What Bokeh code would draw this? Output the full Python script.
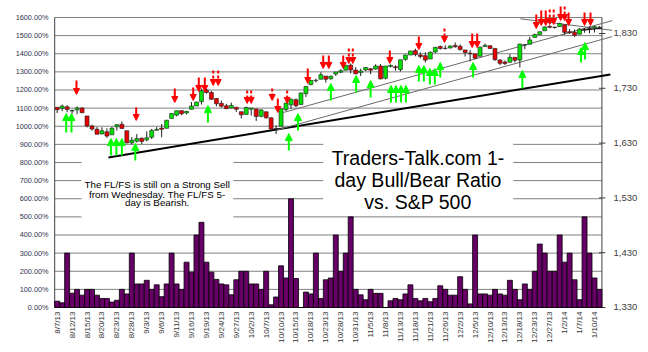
import math
from bokeh.plotting import figure
from bokeh.models import Range1d, LinearAxis, FixedTicker, ColumnDataSource, Arrow, NormalHead
from bokeh.core.properties import value
from bokeh.embed import file_html
from bokeh.resources import INLINE

# ---------------- data ----------------
dates = ["8/7/13","8/8/13","8/9/13","8/12/13","8/13/13","8/14/13","8/15/13","8/16/13","8/19/13","8/20/13",
         "8/21/13","8/22/13","8/23/13","8/26/13","8/27/13","8/28/13","8/29/13","8/30/13","9/3/13","9/4/13",
         "9/5/13","9/6/13","9/9/13","9/10/13","9/11/13","9/12/13","9/13/13","9/16/13","9/17/13","9/18/13",
         "9/19/13","9/20/13","9/23/13","9/24/13","9/25/13","9/26/13","9/27/13","9/30/13","10/1/13","10/2/13",
         "10/3/13","10/4/13","10/7/13","10/8/13","10/9/13","10/10/13","10/11/13","10/14/13","10/15/13","10/16/13",
         "10/17/13","10/18/13","10/21/13","10/22/13","10/23/13","10/24/13","10/25/13","10/28/13","10/29/13","10/30/13",
         "10/31/13","11/1/13","11/4/13","11/5/13","11/6/13","11/7/13","11/8/13","11/11/13","11/12/13","11/13/13",
         "11/14/13","11/15/13","11/18/13","11/19/13","11/20/13","11/21/13","11/22/13","11/25/13","11/26/13","11/27/13",
         "11/29/13","12/2/13","12/3/13","12/4/13","12/5/13","12/6/13","12/9/13","12/10/13","12/11/13","12/12/13",
         "12/13/13","12/16/13","12/17/13","12/18/13","12/19/13","12/20/13","12/23/13","12/24/13","12/26/13","12/27/13",
         "12/30/13","12/31/13","1/2/14","1/3/14","1/6/14","1/7/14","1/8/14","1/9/14","1/10/14","1/13/14"]

ratio_pct = [35, 26, 300, 79, 100, 68, 100, 100, 68, 50,
             50, 30, 40, 100, 75, 300, 130, 130, 150, 100,
             125, 60, 130, 300, 130, 100, 250, 195, 400, 470,
             250, 195, 155, 130, 125, 70, 153, 200, 200, 130,
             130, 100, 200, 15, 58, 230, 163, 600, 160, 0,
             85, 75, 300, 50, 153, 163, 400, 200, 300, 500,
             100, 70, 43, 100, 78, 78, 0, 37, 50, 43,
             75, 125, 50, 37, 50, 32, 50, 120, 100, 68,
             68, 170, 100, 20, 400, 75, 75, 68, 100, 75,
             68, 150, 100, 43, 130, 100, 200, 350, 300, 200,
             200, 400, 250, 300, 153, 43, 500, 300, 163, 100]

sp_open = [1695.3,1693.4,1696.1,1688.4,1690.7,1693.9,1679.6,1661.2,1655.3,1646.8,
           1650.7,1645.0,1659.9,1664.3,1652.5,1630.3,1633.5,1638.9,1635.9,1640.7,
           1653.3,1657.4,1656.9,1675.1,1681.0,1689.2,1685.0,1691.7,1697.7,1705.7,
           1727.0,1722.4,1711.4,1702.6,1698.0,1694.1,1695.5,1687.3,1682.4,1691.9,
           1692.4,1678.8,1687.2,1676.2,1656.0,1660.9,1691.1,1699.9,1709.2,1700.5,
           1720.2,1736.7,1744.0,1746.5,1752.3,1747.5,1756.0,1759.4,1762.9,1772.3,
           1763.2,1758.7,1763.4,1765.7,1765.0,1770.7,1748.4,1769.9,1769.5,1764.0,
           1782.8,1790.7,1798.8,1790.8,1789.6,1783.5,1796.2,1806.3,1802.9,1803.5,
           1808.0,1806.6,1800.1,1794.1,1792.8,1788.4,1806.2,1807.6,1802.8,1781.7,
           1778.0,1777.5,1786.5,1781.5,1809.0,1810.4,1822.9,1828.0,1835.0,1843.0,
           1841.5,1842.6,1845.9,1833.2,1832.3,1828.7,1837.9,1839.0,1840.1,1841.3]
sp_high = [1695.3,1700.2,1699.4,1691.5,1696.8,1695.5,1679.6,1663.6,1659.2,1658.9,
           1656.9,1659.6,1664.9,1669.5,1652.5,1641.2,1646.4,1640.1,1651.4,1655.7,
           1659.2,1664.8,1672.4,1684.1,1689.1,1689.9,1688.7,1704.9,1705.5,1729.4,
           1729.9,1725.2,1711.4,1707.6,1701.7,1703.9,1695.5,1687.3,1696.6,1693.9,
           1692.4,1691.9,1687.2,1676.8,1662.4,1692.6,1703.4,1711.0,1711.6,1721.8,
           1733.4,1745.3,1747.8,1759.3,1752.3,1753.0,1759.8,1765.0,1772.1,1775.2,
           1768.5,1765.7,1768.8,1767.0,1773.7,1774.5,1770.8,1773.4,1771.8,1782.0,
           1791.5,1798.2,1802.3,1795.5,1795.7,1797.2,1804.8,1808.1,1808.4,1808.3,
           1813.6,1810.0,1800.1,1799.8,1792.8,1806.0,1811.5,1808.5,1803.0,1783.0,
           1780.9,1792.2,1786.8,1811.1,1810.9,1823.8,1829.8,1833.3,1842.8,1844.9,
           1842.5,1849.4,1845.9,1838.2,1837.2,1840.1,1840.0,1843.2,1844.0,1843.5]
sp_low = [1684.9,1688.4,1686.0,1683.4,1682.6,1684.8,1658.6,1652.6,1645.8,1646.1,
          1639.4,1645.0,1653.0,1656.0,1629.1,1627.5,1630.9,1628.1,1633.4,1637.4,
          1653.1,1640.6,1656.9,1675.1,1678.7,1681.0,1682.2,1691.7,1697.7,1700.4,
          1720.2,1708.9,1697.1,1694.9,1691.9,1693.1,1687.0,1674.9,1682.1,1680.3,
          1670.4,1677.3,1674.7,1655.0,1646.5,1660.9,1688.5,1692.1,1695.5,1700.5,
          1714.1,1735.7,1740.6,1746.5,1740.5,1745.5,1752.5,1757.7,1762.9,1757.2,
          1755.7,1752.3,1761.6,1755.8,1764.2,1746.2,1746.2,1767.9,1762.3,1760.6,
          1780.2,1790.7,1788.4,1784.7,1777.2,1783.5,1794.7,1800.6,1800.8,1802.8,
          1804.0,1798.6,1787.9,1779.1,1783.4,1788.4,1806.2,1801.7,1780.1,1772.3,
          1772.4,1777.5,1777.2,1768.0,1801.3,1810.4,1822.9,1828.0,1835.0,1839.8,
          1838.8,1842.4,1827.7,1829.1,1823.7,1828.7,1831.4,1830.4,1831.9,1838.0]
sp_close = [1690.9,1697.5,1691.4,1689.5,1694.2,1685.4,1661.3,1655.8,1646.1,1652.4,
            1642.8,1657.0,1663.5,1656.8,1630.5,1635.0,1638.2,1633.0,1639.8,1653.1,
            1655.1,1655.2,1671.7,1684.0,1689.1,1683.4,1688.0,1697.6,1704.8,1725.5,
            1722.3,1709.9,1701.8,1697.4,1692.8,1698.7,1691.8,1681.6,1695.0,1693.9,
            1678.7,1690.5,1676.1,1655.5,1656.4,1692.6,1703.2,1710.1,1698.1,1721.5,
            1733.2,1744.5,1744.7,1754.7,1746.4,1752.1,1759.8,1762.1,1772.0,1763.3,
            1756.5,1761.6,1767.9,1763.0,1770.5,1747.2,1770.6,1771.9,1767.7,1782.0,
            1790.6,1798.2,1791.5,1787.9,1781.4,1795.9,1804.8,1802.5,1802.8,1807.2,
            1805.8,1800.9,1795.2,1792.8,1785.0,1805.1,1808.4,1802.6,1782.2,1775.5,
            1775.3,1786.5,1781.0,1810.7,1809.6,1818.3,1828.0,1833.3,1842.0,1841.4,
            1841.1,1848.4,1832.0,1831.4,1826.8,1837.9,1837.5,1838.1,1842.4,1841.0]

pct_ticks = [0, 100, 200, 300, 400, 500, 600, 700, 800, 900, 1000, 1100, 1200, 1300, 1400, 1500, 1600]
sp_ticks = [1330, 1430, 1530, 1630, 1730, 1830]
sp_tick_labels = ["1,330", "1,430", "1,530", "1,630", "1,730", "1,830"]
date_label_step = 3

# signal arrows (x in trading-day index, y in ratio % units)
sell_x = [3.88, 15.88, 23.64, 27.34, 28.46, 29.67, 31.36, 32.36, 38.19, 38.99,
          43.22, 44.34, 46.23, 50.37, 53.47, 54.6, 57.49, 58.62, 59.42, 66.86,
          72.69, 77.85, 83.42, 84.42, 96.3, 97.3, 98.2, 99.0, 99.8, 101.2,
          102.0, 102.8, 106.0, 107.2]
sell_from = [1252, 1103, 1208, 1214, 1269, 1269, 1308, 1308, 1197, 1197,
             1208, 1153, 1197, 1319, 1390, 1390, 1390, 1429, 1429, 1418,
             1495, 1539, 1512, 1512, 1617, 1639, 1639, 1644, 1644, 1661,
             1661, 1628, 1628, 1628]
sell_to = [1175, 1032, 1131, 1142, 1192, 1192, 1225, 1225, 1126, 1126,
           1142, 1076, 1126, 1236, 1319, 1319, 1319, 1346, 1346, 1346,
           1423, 1462, 1434, 1434, 1539, 1556, 1556, 1561, 1561, 1583,
           1583, 1556, 1556, 1556]
sell_dashed = [False, False, False, False, False, False, True, True, True, True,
               True, False, True, False, False, False, False, True, True, False,
               False, True, False, False, False, False, False, True, True, False,
               True, False, False, False]

buy_x = [1.81, 2.88, 10.8, 11.9, 13.0, 15.7, 30.3, 46.56, 48.4, 55.0,
         60.1, 63.0, 67.1, 68.1, 69.1, 70.1, 72.7, 73.7, 74.9, 75.9,
         77.0, 83.6, 93.5, 105.3, 106.1]
buy_from = [965, 965, 839, 839, 839, 811, 1021, 866, 977, 1142,
            1186, 1159, 1131, 1131, 1131, 1131, 1247, 1247, 1230, 1230,
            1269, 1269, 1208, 1352, 1368]
buy_to = [1070, 1070, 932, 932, 932, 905, 1114, 960, 1070, 1236,
          1280, 1252, 1225, 1225, 1225, 1225, 1335, 1335, 1319, 1319,
          1352, 1352, 1308, 1434, 1462]

# trend lines (x in day index, y in ratio % units)
trend_x0 = [10.3, 43.88, 45.49, 93.1, 104.85]
trend_y0 = [828, 977, 1076, 1593, 1528]
trend_x1 = [111.2, 111.6, 111.6, 111.6, 109.5]
trend_y1 = [1286, 1495, 1583, 1529, 1541]

title_lines = ["Traders-Talk.com 1-", "day Bull/Bear Ratio", "vs. S&P 500"]
note_lines = ["The FL/FS is still on a Strong Sell", "from Wednesday. The FL/FS 5-", "day is Bearish."]

# ---------------- figure ----------------
FONT = "Liberation Sans"
W, H = 645, 352
n = len(dates)
idx = list(range(n))

p = figure(width=W, height=H, output_backend="svg", toolbar_location=None,
           x_range=Range1d(-0.741, 111.62), y_range=Range1d(-11.03, 1671.7),
           min_border_left=53, min_border_right=33, min_border_top=4, min_border_bottom=43,
           title=None)
p.extra_y_ranges = {"sp": Range1d(1326.35, 1882.9)}
p.background_fill_color = "white"
p.border_fill_color = "white"
p.outline_line_color = None
p.xgrid.visible = False
p.ygrid.visible = False
p.styles = {"outline": "1.5px solid #505050", "outline-offset": "-2px"}

# x axis (dates)
xa = p.xaxis[0]
xa.ticker = FixedTicker(ticks=idx[::date_label_step])
xa.major_label_overrides = {i: dates[i] for i in idx[::date_label_step]}
xa.major_label_orientation = math.pi / 2
xa.major_label_text_font = FONT
xa.major_label_text_font_size = "8px"
xa.major_label_text_color = "#333333"
xa.major_label_standoff = 2
xa.major_tick_out = 0
xa.major_tick_in = 0
xa.minor_tick_out = 0
xa.minor_tick_in = 0
xa.axis_line_color = None

# left axis (ratio %)
ya = p.yaxis[0]
ya.ticker = FixedTicker(ticks=pct_ticks)
ya.major_label_overrides = {t: f"{t:.2f}%" for t in pct_ticks}
ya.major_label_text_font = FONT
ya.major_label_text_font_size = "7.3px"
ya.major_label_text_color = "#33334d"
ya.major_label_standoff = 5
ya.major_tick_out = 0
ya.major_tick_in = 0
ya.minor_tick_out = 0
ya.minor_tick_in = 0
ya.axis_line_color = None

# right axis (S&P 500)
ra = LinearAxis(y_range_name="sp", ticker=FixedTicker(ticks=sp_ticks))
ra.major_label_overrides = dict(zip(sp_ticks, sp_tick_labels))
ra.major_label_text_font = FONT
ra.major_label_text_font_size = "9.5px"
ra.major_label_text_color = "#404040"
ra.major_label_standoff = 1
ra.major_tick_out = 0
ra.major_tick_in = 0
ra.minor_tick_out = 0
ra.minor_tick_in = 0
ra.axis_line_color = None
p.add_layout(ra, "right")

x_first, x_last = -0.5, n - 0.5

# gridlines
grid_y = pct_ticks[1:]
p.segment(x0=[x_first] * len(grid_y), x1=[x_last] * len(grid_y), y0=grid_y, y1=grid_y,
          line_color="#808080", line_width=1)

# white text boxes (cover the gridlines like the chart's text boxes)
p.quad(left=[4.89, 53.47], right=[35.4, 91.66], bottom=[485.5, 535], top=[816, 921],
       fill_color="white", line_color=None)

# axis lines
p.segment(x0=[x_first, x_first, x_last], y0=[0, 0, 0], x1=[x_first, x_last, x_last], y1=[1600, 0, 1600],
          line_color="#404040", line_width=1)
p.segment(x0=[x_last - 0.6] * len(sp_ticks), x1=[x_last + 0.7] * len(sp_ticks), y0=sp_ticks, y1=sp_ticks,
          y_range_name="sp", line_color="#404040", line_width=1)

# ratio bars
p.vbar(x=idx, top=ratio_pct, width=1.0, fill_color="#660066", line_color="black", line_width=0.8)

# trend lines
trend_src = ColumnDataSource(dict(x0=trend_x0, y0=trend_y0, x1=trend_x1, y1=trend_y1,
                                  c=["black", "#6a6a6a", "#6a6a6a", "#6a6a6a", "#202020"],
                                  w=[2.0, 1.0, 1.0, 1.0, 1.2]))
p.segment(x0="x0", y0="y0", x1="x1", y1="y1", line_color="c", line_width="w", source=trend_src)

# candlesticks
body_top = [max(o, c) for o, c in zip(sp_open, sp_close)]
body_bot = [min(o, c) for o, c in zip(sp_open, sp_close)]
body_col = ["#00e000" if c >= o else "#e80000" for o, c in zip(sp_open, sp_close)]
p.segment(x0=idx, x1=idx, y0=sp_low, y1=sp_high, y_range_name="sp", line_color="#202020", line_width=1)
p.vbar(x=idx, top=body_top, bottom=body_bot, width=0.8, fill_color=body_col,
       line_color="#202020", line_width=0.6, y_range_name="sp")

# signal arrows
def add_arrows(xs, y0s, y1s, color, dash, size):
    if not xs:
        return
    src = ColumnDataSource(dict(x=xs, y0=y0s, y1=y1s))
    head = NormalHead(size=size, fill_color=color, line_color=color, line_width=1)
    p.add_layout(Arrow(end=head, source=src, x_start="x", y_start="y0", x_end="x", y_end="y1",
                       line_color=color, line_width=2, line_dash=dash))

solid = [i for i, d in enumerate(sell_dashed) if not d]
dashed = [i for i, d in enumerate(sell_dashed) if d]
add_arrows([sell_x[i] for i in solid], [sell_from[i] for i in solid], [sell_to[i] for i in solid],
           "#ff0000", "solid", 6)
add_arrows([sell_x[i] for i in dashed], [sell_from[i] for i in dashed], [sell_to[i] for i in dashed],
           "#ff0000", "3 2", 6)
add_arrows(buy_x, buy_from, buy_to, "#00ff00", "solid", 7)

# texts
p.text(x=[72.52] * 3, y=[826, 706, 583], text=title_lines, text_font=value(FONT),
       text_font_size=value("19.5px"), text_align="center", text_baseline="alphabetic",
       text_color="black")
p.text(x=[20.1] * 3, y=[678.6, 625.1, 579.3], text=note_lines, text_font=value(FONT),
       text_font_size=value("9.8px"), text_align="center", text_baseline="alphabetic",
       text_color="black")

open("out.html", "w").write(file_html(p, INLINE))
